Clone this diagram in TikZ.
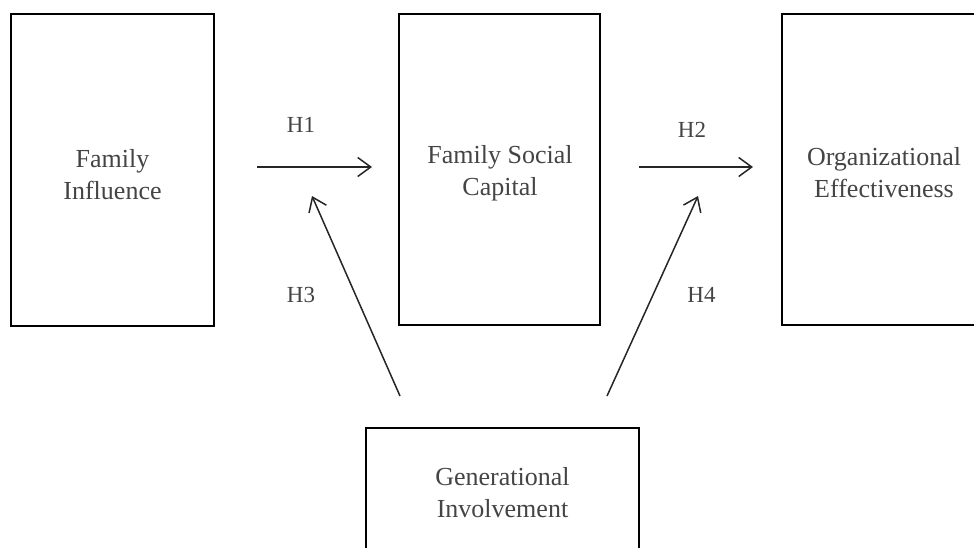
\documentclass[tikz,border=0pt]{standalone}
\usepackage{fontspec}
\setmainfont{Liberation Serif}
\usetikzlibrary{arrows.meta}
\definecolor{txt}{HTML}{444444}
\tikzset{
  box/.style={draw=black, line width=2pt, rectangle, inner sep=0pt},
  boxtext/.style={align=center, inner sep=0pt, text=txt, font=\fontsize{26}{32}\selectfont},
  hlab/.style={text=txt, font=\fontsize{23}{28}\selectfont, inner sep=0pt},
  arr/.style={draw=black!85, line width=1.5pt, -{Straight Barb[length=13pt,width=19pt,line width=1.5pt]}}
}
\begin{document}
\begin{tikzpicture}[x=1pt,y=-1pt]
\useasboundingbox (0,0) rectangle (974,547);
\clip (0,0) rectangle (974,547);
\node[box, minimum width=203pt, minimum height=312pt] (fi) at (112.5,170) {};
\node[box, minimum width=201pt, minimum height=311pt] (fsc) at (499.5,169.5) {};
\node[box, minimum width=202pt, minimum height=311pt] (oe) at (883,169.5) {};
\node[box, minimum width=273pt, minimum height=130pt] (gi) at (502.5,493) {};
\node[boxtext] (fit) at (112.5,174.5) {Family\\Influence};
\node[boxtext] (fsct) at (500,173) {Family Social\\Capital};
\node[boxtext] (oet) at (884,173) {Organizational\\Effectiveness};
\node[boxtext] (git) at (502.5,493) {Generational\\Involvement};
\coordinate (h1s) at (257,167);
\coordinate (h1e) at (372,167);
\coordinate (h2s) at (639,167);
\coordinate (h2e) at (753,167);
\coordinate (h3s) at (400,396);
\coordinate (h3e) at (312,196);
\coordinate (h4s) at (607,396);
\coordinate (h4e) at (698,196);
\draw[arr] (h1s) -- (h1e);
\draw[arr] (h2s) -- (h2e);
\draw[arr] (h3s) -- (h3e);
\draw[arr] (h4s) -- (h4e);
\node[hlab] (l1) at (301,125) {H1};
\node[hlab] (l2) at (692,130) {H2};
\node[hlab] (l3) at (301,295) {H3};
\node[hlab] (l4) at (701.5,295) {H4};
\end{tikzpicture}
\end{document}
